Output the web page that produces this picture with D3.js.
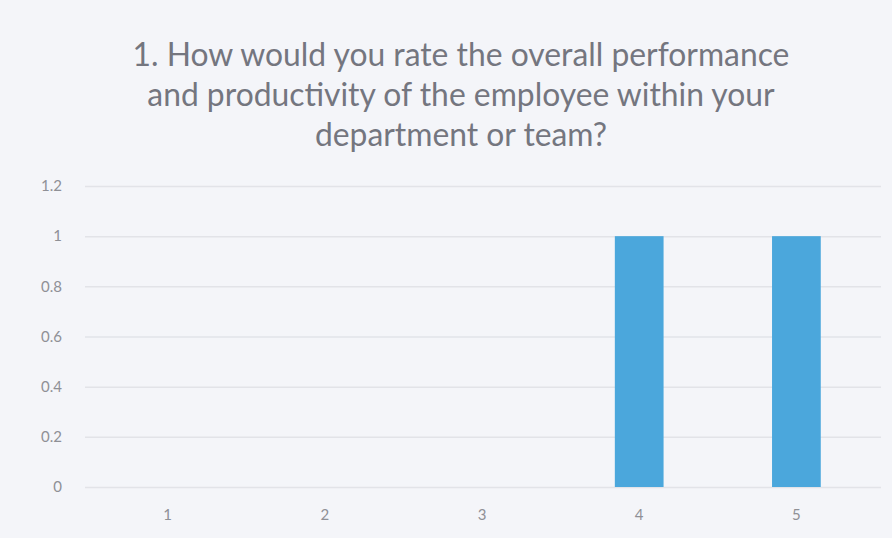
<!DOCTYPE html>
<html>
<head>
<meta charset="utf-8">
<script src="https://cdn.jsdelivr.net/npm/d3@7"></script>
<style>
  body { margin: 0; background: #f4f5f9; }
  svg { display: block; }
</style>
</head>
<body>
<svg width="892" height="538"></svg>
<script>
const categories = ["1", "2", "3", "4", "5"];
const counts = [0, 0, 0, 1, 1];
const yTicks = [0, 0.2, 0.4, 0.6, 0.8, 1, 1.2];
const titleLines = [
  "1. How would you rate the overall performance",
  "and productivity of the employee within your",
  "department or team?"
];

const width = 892;
const height = 538;
const margin = { top: 186, right: 17, bottom: 51, left: 89 };

const data = categories.map((c, i) => ({ cat: c, value: counts[i] }));

const svg = d3.select("svg");

svg.append("rect")
  .attr("width", width)
  .attr("height", height)
  .attr("fill", "#f4f5f9");

// scales
const x = d3.scaleBand()
  .domain(categories)
  .range([margin.left, width - margin.right])
  .paddingInner(0.69)
  .paddingOuter(0.345);

const y = d3.scaleLinear()
  .domain([0, 1.2])
  .range([height - margin.bottom, margin.top]);

// gridlines
svg.append("g")
  .selectAll("line")
  .data(yTicks)
  .join("line")
  .attr("x1", margin.left - 4)
  .attr("x2", width - margin.right + 6)
  .attr("y1", d => y(d) + 0.5)
  .attr("y2", d => y(d) + 0.5)
  .attr("stroke", "#e2e3e8")
  .attr("stroke-width", 1.5);

// bars
svg.append("g")
  .selectAll("rect")
  .data(data)
  .join("rect")
  .attr("x", d => x(d.cat))
  .attr("width", x.bandwidth())
  .attr("y", d => y(d.value))
  .attr("height", d => y(0) - y(d.value))
  .attr("fill", "#4ba7dc");

// y axis
const yAxis = d3.axisLeft(y)
  .tickValues(yTicks)
  .tickSize(0)
  .tickPadding(0)
  .tickFormat(d => d3.format("~g")(d));

svg.append("g")
  .attr("transform", `translate(${margin.left - 27}, 0)`)
  .call(yAxis)
  .call(g => g.select(".domain").remove())
  .call(g => g.selectAll("text")
    .attr("fill", "#8f9096")
    .attr("font-family", "Lato, 'Open Sans', sans-serif")
    .attr("font-size", 15));

// x axis
const xAxis = d3.axisBottom(x).tickSize(0).tickPadding(0);

svg.append("g")
  .attr("transform", `translate(0, ${height - margin.bottom + 22})`)
  .call(xAxis)
  .call(g => g.select(".domain").remove())
  .call(g => g.selectAll("text")
    .attr("fill", "#8f9096")
    .attr("font-family", "Lato, 'Open Sans', sans-serif")
    .attr("font-size", 15));

// title
const title = svg.append("g")
  .attr("font-family", "Lato, 'Open Sans', sans-serif")
  .attr("fill", "#74767f")
  .attr("text-anchor", "middle");

const titleText = title.selectAll("text")
  .data(titleLines)
  .join("text")
  .attr("x", 461)
  .attr("y", (d, i) => 66 + i * 40)
  .attr("font-size", 28)
  .text(d => d);

// fit first line to the width seen in the picture
const w0 = titleText.node().getComputedTextLength();
titleText.attr("font-size", 28 * 657 / w0);
</script>
</body>
</html>
